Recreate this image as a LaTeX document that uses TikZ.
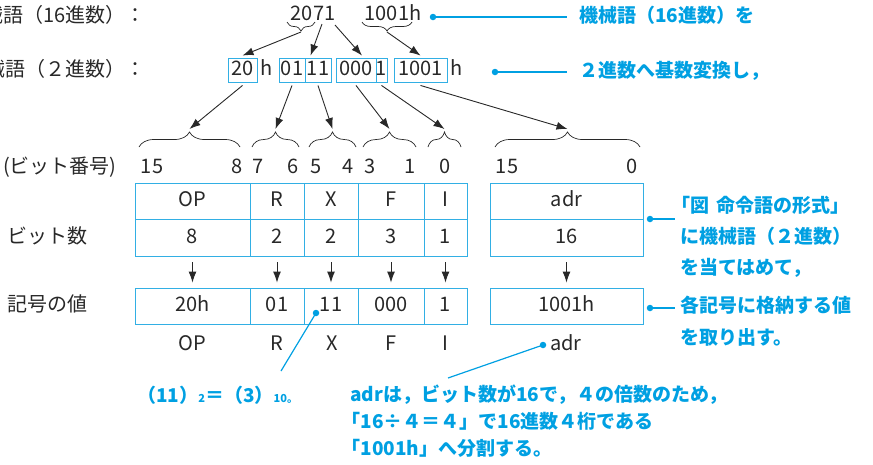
\documentclass[tikz,border=0pt]{standalone}
\usepackage{fontspec}
\setmainfont{Noto Sans CJK JP}
\usetikzlibrary{arrows.meta,decorations.pathreplacing}
\definecolor{ink}{RGB}{40,40,40}
\definecolor{cblue}{RGB}{0,160,226}
\definecolor{cbox}{RGB}{50,175,228}
\begin{document}
\begin{tikzpicture}[x=1pt,y=-1pt,
  txt/.style={text=ink,font=\fontsize{20}{24}\selectfont,inner sep=0pt,text height=15pt,text depth=4pt},
  btxt/.style={text=cblue,font=\fontsize{19}{23}\selectfont\bfseries,inner sep=0pt,text height=15pt,text depth=4pt,anchor=west},
  bblock/.style={text=cblue,inner sep=0pt,align=left,anchor=north west},
  cell/.style={draw=cbox,line width=0.9pt,text=ink,font=\fontsize{20}{24}\selectfont,inner sep=0pt,text height=15pt,text depth=4pt},
  arr/.style={draw=ink,line width=0.9pt,-{Latex[length=11pt,width=8pt]}},
  brc/.style={draw=ink,line width=0.7pt,decorate,decoration={brace,amplitude=#1}},
  bline/.style={draw=cblue,line width=1.2pt},
  bdot/.style={circle,fill=cblue,inner sep=0pt,minimum size=6.5pt},
]
\useasboundingbox (0,0) rectangle (873,464);

% ---- row 1 ----
\node[txt,anchor=east] (l1) at (146,17) {機械語（16進数）：};
\node[txt] (n2071) at (313,15) {2071};
\node[txt] (n1001h) at (393,15) {1001h};
\node[bdot] (d1) at (433,17) {};
\node[btxt] (t1) at (579,17) {機械語（16進数）を};
\draw[bline] (d1.center) -- ([xshift=-12pt]t1.west);

% braces under 2071 / 1001
\draw[brc=9pt] (315,22) -- (287,22);
\draw[brc=9pt] (412,22) -- (362,22);
\coordinate (b20) at (301,32);
\coordinate (s7) at (322,24);
\coordinate (s1) at (335,25);
\coordinate (b1001) at (387,32);

% ---- row 2 ----
\node[txt,anchor=east] (l2) at (146,71) {機械語（２進数）：};
\node[cell,minimum width=29pt,minimum height=24pt] (r20) at (242.5,70) {20};
\node[txt] (rh1) at (267,70) {h};
\node[cell,minimum width=26pt,minimum height=24pt] (r01) at (292,70) {01};
\node[cell,minimum width=26pt,minimum height=24pt] (r11) at (318,70) {11};
\node[cell,minimum width=40pt,minimum height=24pt] (r000) at (356,70) {000};
\node[cell,minimum width=11pt,minimum height=24pt] (r1) at (381.5,70) {1};
\node[cell,minimum width=53pt,minimum height=24pt] (r1001) at (420.5,70) {1001};
\node[txt] (rh2) at (457,70) {h};
\node[bdot] (d2) at (495,72) {};
\node[btxt] (t2) at (579,72) {２進数へ基数変換し，};
\draw[bline] (d2.center) -- ([xshift=-12pt]t2.west);

% arrows row1 -> row2
\draw[arr] (b20) -- ([yshift=2pt]r20.north);
\draw[arr] (s7) -- ([xshift=6pt,yshift=2pt]r11.north west);
\draw[arr] (s1) -- ([xshift=6pt,yshift=2pt]r000.north);
\draw[arr] (b1001) -- ([yshift=2pt]r1001.north);

% ---- braces row 3 ----
\draw[brc=15pt] (139,147) -- (240,147);
\draw[brc=15pt] (252,147) -- (299,147);
\draw[brc=15pt] (309,147) -- (356,147);
\draw[brc=15pt] (363,147) -- (416,147);
\draw[brc=15pt] (428,147) -- (461,147);
\draw[brc=15pt] (495,147) -- (640,147);
\coordinate (tOP) at (189.5,129);
\coordinate (tR) at (275.5,129);
\coordinate (tX) at (332.5,129);
\coordinate (tF) at (389.5,129);
\coordinate (tI) at (444.5,129);
\coordinate (tA) at (567.5,129);
\draw[arr] ([yshift=-3pt]r20.south) -- (tOP);
\draw[arr] ([yshift=-3pt]r01.south) -- (tR);
\draw[arr] ([yshift=-3pt]r11.south) -- (tX);
\draw[arr] ([yshift=-3pt]r000.south) -- (tF);
\draw[arr] ([yshift=-3pt]r1.south) -- (tI);
\draw[arr] ([yshift=-3pt]r1001.south) -- (tA);

% ---- bit numbers ----
\node[txt,anchor=west] (lbn) at (3,168) {(ビット番号)};
\node[txt] (k15) at (152,168) {15};
\node[txt] (k8) at (237,168) {8};
\node[txt] (k7) at (258,168) {7};
\node[txt] (k6) at (293,168) {6};
\node[txt] (k5) at (316,168) {5};
\node[txt] (k4) at (348,168) {4};
\node[txt] (k3) at (370,168) {3};
\node[txt] (k1) at (410,168) {1};
\node[txt] (k0) at (445,168) {0};
\node[txt] (ka15) at (507,168) {15};
\node[txt] (ka0) at (632,168) {0};

% ---- table ----
\node[cell,minimum width=115pt,minimum height=36pt] (aOP) at (192.5,201) {OP};
\node[cell,minimum width=54pt,minimum height=36pt] (aR) at (277,201) {R};
\node[cell,minimum width=54pt,minimum height=36pt] (aX) at (331,201) {X};
\node[cell,minimum width=66pt,minimum height=36pt] (aF) at (391,201) {F};
\node[cell,minimum width=43pt,minimum height=36pt] (aI) at (445.5,201) {I};
\node[cell,minimum width=153pt,minimum height=36pt] (aA) at (566.5,201) {adr};

\node[txt,anchor=west] (lbs) at (7,237.5) {ビット数};
\node[cell,minimum width=115pt,minimum height=37pt] (bOP) at (192.5,237.5) {8};
\node[cell,minimum width=54pt,minimum height=37pt] (bR) at (277,237.5) {2};
\node[cell,minimum width=54pt,minimum height=37pt] (bX) at (331,237.5) {2};
\node[cell,minimum width=66pt,minimum height=37pt] (bF) at (391,237.5) {3};
\node[cell,minimum width=43pt,minimum height=37pt] (bI) at (445.5,237.5) {1};
\node[cell,minimum width=153pt,minimum height=37pt] (bA) at (566.5,237.5) {16};

\node[txt,anchor=west] (lkv) at (7,306) {記号の値};
\node[cell,minimum width=115pt,minimum height=36pt] (cOP) at (192.5,306) {20h};
\node[cell,minimum width=54pt,minimum height=36pt] (cR) at (277,306) {01};
\node[cell,minimum width=54pt,minimum height=36pt] (cX) at (331,306) {11};
\node[cell,minimum width=66pt,minimum height=36pt] (cF) at (391,306) {000};
\node[cell,minimum width=43pt,minimum height=36pt] (cI) at (445.5,306) {1};
\node[cell,minimum width=153pt,minimum height=36pt] (cA) at (566.5,306) {1001h};

\foreach \c in {OP,R,X,F,I,A}{
  \draw[arr] ([yshift=-6pt]b\c.south) -- ([yshift=5pt]c\c.north);
}

% ---- labels below ----
\node[txt] (eOP) at (192.5,345) {OP};
\node[txt] (eR) at (277,345) {R};
\node[txt] (eX) at (332,345) {X};
\node[txt] (eF) at (391,345) {F};
\node[txt] (eI) at (445.5,345) {I};
\node[txt] (eA) at (566,345) {adr};

% ---- right annotations ----
\node[bdot] (d3) at (650,219) {};
\coordinate (e3) at (675,219);
\draw[bline] (d3.center) -- (e3);
\node[bblock,font=\fontsize{19}{31}\selectfont\bfseries] (t3) at (680,196)
  {\kern-0.45em「図\hspace{0.35em}命令語の形式」\\に機械語（２進数）\\を当てはめて，};
\node[bdot] (d4) at (650,308) {};
\coordinate (e4) at (675,308);
\draw[bline] (d4.center) -- (e4);
\node[bblock,font=\fontsize{19}{32}\selectfont\bfseries] (t4) at (680,296)
  {各記号に格納する値\\を取り出す。};

% ---- bottom annotations ----
\node[bdot] (dx) at (316,313) {};
\coordinate (ex) at (281,371);
\draw[bline] (dx.center) -- (ex);
\node[btxt] (t5) at (137,397)
  {（11）{\fontsize{11}{11}\selectfont 2}＝（3）{\fontsize{11}{11}\selectfont 10。}};

\node[bdot] (dadr) at (543,345) {};
\coordinate (eadr) at (448,378);
\draw[bline] (dadr.center) -- (eadr);
\node[bblock,font=\fontsize{19}{27}\selectfont\bfseries] (t6) at (350,385)
  {adrは，ビット数が16で，４の倍数のため，\\\kern-0.45em「16÷４＝４」で16進数４桁である\\\kern-0.45em「1001h」へ分割する。};
\end{tikzpicture}
\end{document}
